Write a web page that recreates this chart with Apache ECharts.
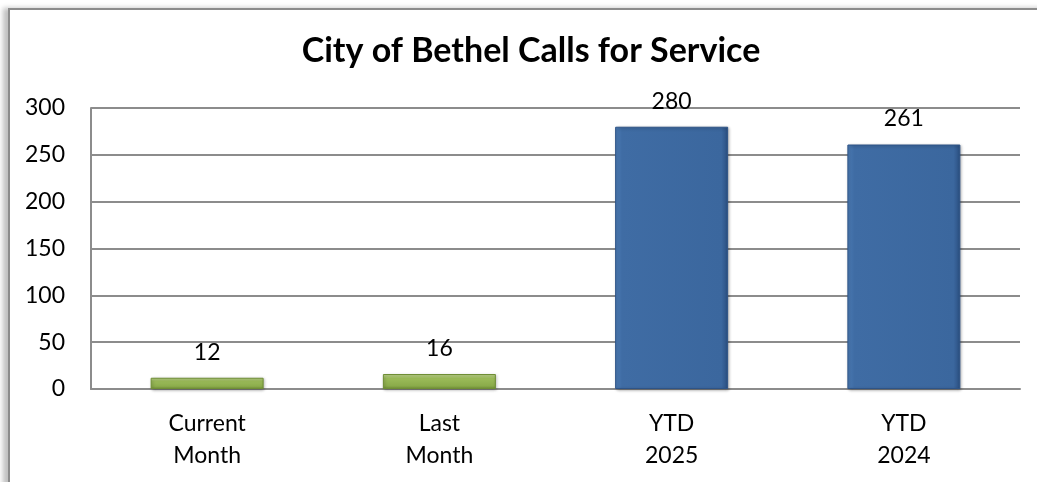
<!DOCTYPE html>
<html>
<head>
<meta charset="utf-8">
<title>City of Bethel Calls for Service</title>
<script src="https://cdn.jsdelivr.net/npm/echarts@6/dist/echarts.min.js"></script>
<style>
  html, body { margin: 0; padding: 0; background: #fff; }
  .chart-wrap {
    position: relative;
    width: 1037px;
    height: 482px;
    overflow: hidden;
  }
  .frame {
    position: absolute;
    left: 8px;
    top: 8px;
    width: 1100px;
    height: 600px;
    border-top: 2px solid #8c8c8c;
    border-left: 2px solid #8c8c8c;
    box-shadow: -5px 0 5px rgba(0, 0, 0, 0.25);
  }
  #chart {
    position: absolute;
    left: 0;
    top: 0;
    width: 1037px;
    height: 482px;
  }
</style>
</head>
<body>
<div class="chart-wrap">
  <div class="frame"></div>
  <div id="chart"></div>
</div>
<script>
// data
const categories = ['Current\nMonth', 'Last\nMonth', 'YTD\n2025', 'YTD\n2024']
const callCounts = [12, 16, 280, 261]
const barKinds = ['month', 'month', 'ytd', 'ytd']
const yTicks = [0, 50, 100, 150, 200, 250, 300]

// bevel-ish fills for the two bar kinds
function fillFor(kind) {
  if (kind === 'month') {
    return {
      type: 'linear', x: 0, y: 0, x2: 0, y2: 1,
      colorStops: [
        { offset: 0, color: '#c5da94' },
        { offset: 0.3, color: '#9bbb59' },
        { offset: 0.8, color: '#8aab4a' },
        { offset: 1, color: '#6f8e35' }
      ]
    }
  }
  return {
    type: 'linear', x: 0, y: 0, x2: 1, y2: 0,
    colorStops: [
      { offset: 0, color: '#4f7fb9' },
      { offset: 0.06, color: '#3f6ca4' },
      { offset: 0.94, color: '#3b679e' },
      { offset: 1, color: '#2a4e80' }
    ]
  }
}

const seriesData = callCounts.map((v, i) => ({
  value: v,
  itemStyle: {
    color: fillFor(barKinds[i]),
    borderColor: barKinds[i] === 'month' ? '#6f8e35' : '#2e5487',
    borderWidth: 1,
    shadowColor: 'rgba(0,0,0,0.3)',
    shadowBlur: 3,
    shadowOffsetX: 1,
    shadowOffsetY: 1
  }
}))

const chart = echarts.init(document.getElementById('chart'))
const options = {
  backgroundColor: 'transparent',
  animation: false,
  title: {
    text: 'City of Bethel Calls for Service',
    left: 526,
    textAlign: 'center',
    top: 29,
    textStyle: {
      fontFamily: 'Lato',
      fontWeight: 'bold',
      fontSize: 34,
      color: '#000'
    }
  },
  grid: {
    left: 91,
    right: 17,
    top: 108,
    bottom: 93,
    containLabel: false
  },
  xAxis: {
    type: 'category',
    data: categories,
    axisLine: { show: true, lineStyle: { color: '#8c8c8c', width: 2 } },
    axisTick: { show: false },
    axisLabel: {
      fontFamily: 'Lato',
      fontSize: 23,
      lineHeight: 32,
      color: '#000',
      margin: 19
    }
  },
  yAxis: {
    type: 'value',
    min: yTicks[0],
    max: yTicks[yTicks.length - 1],
    interval: yTicks[1] - yTicks[0],
    axisLine: { show: true, lineStyle: { color: '#8c8c8c', width: 2 } },
    axisTick: { show: false },
    splitLine: { lineStyle: { color: '#8c8c8c', width: 2 } },
    axisLabel: {
      fontFamily: 'Lato',
      fontSize: 23,
      color: '#000',
      margin: 26
    }
  },
  series: [
    {
      type: 'bar',
      barWidth: 113,
      data: seriesData,
      label: {
        show: true,
        position: 'top',
        distance: 14,
        fontFamily: 'Lato',
        fontSize: 23,
        color: '#000'
      }
    }
  ]
}
chart.setOption(options)
</script>
</body>
</html>
